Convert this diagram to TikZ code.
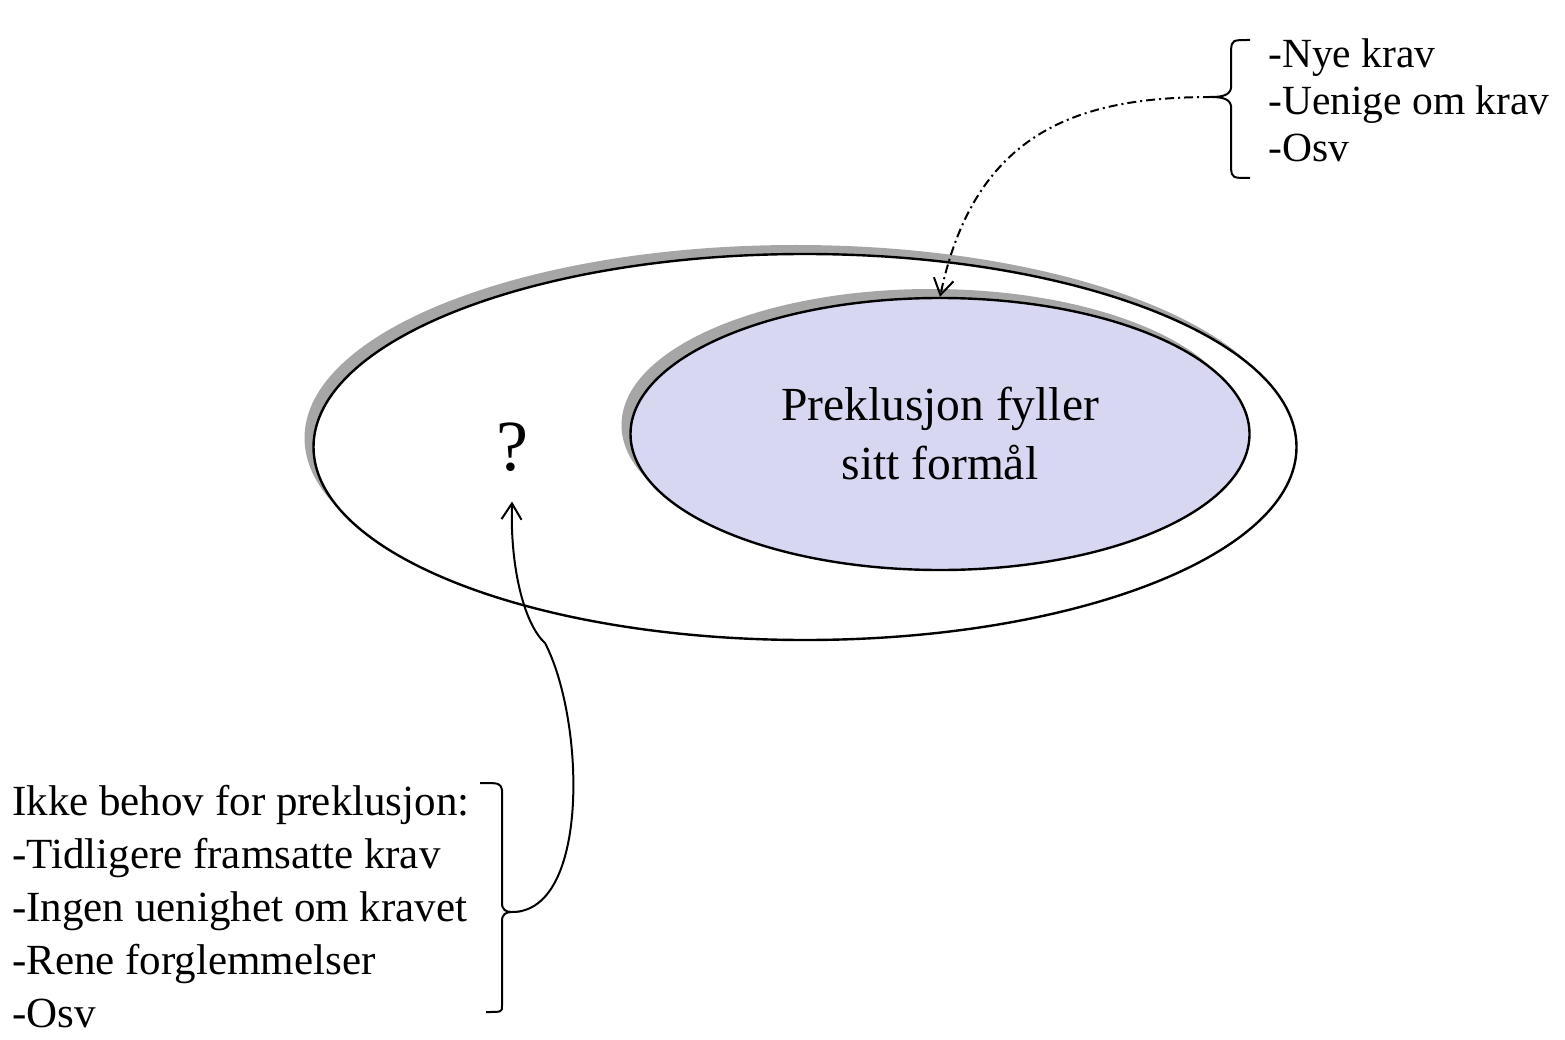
\documentclass[tikz,border=0pt]{standalone}
\usepackage{fontspec}
\setmainfont{Liberation Serif}
\usetikzlibrary{shapes.geometric,shadows,arrows.meta}
\definecolor{lavender}{RGB}{215,215,242}
\tikzset{
  ring/.style={ellipse, draw, line width=2.4pt, inner sep=0pt,
    drop shadow={shadow xshift=-9pt, shadow yshift=9pt, fill=gray!70, opacity=1}},
  brace/.style={line width=2pt},
  list/.style={align=left, inner sep=0pt, anchor=west},
}
\begin{document}
\begin{tikzpicture}[x=1pt, y=-1pt, >={Straight Barb[length=16pt,width=20pt]}]
		\useasboundingbox (0,0) rectangle (1565,1040);
		% ellipses
		\node[ring, fill=white, minimum width=983pt, minimum height=386pt] (outer) at (805,447) {};
		\node[ring, fill=lavender, minimum width=619pt, minimum height=272pt, align=center,
			font=\fontsize{47.5}{59}\selectfont] (inner) at (940,434) {Preklusjon fyller\\sitt formål};
		\node[inner sep=0pt, font=\fontsize{72}{84}\selectfont] (q) at (512,447) {?};
		% lists
		\node[list, font=\fontsize{41.5}{47}\selectfont] (toplist) at (1268,100) {-Nye krav\\-Uenige om krav\\-Osv};
		\node[list, font=\fontsize{43}{53}\selectfont] (lowlist) at (12,907) {Ikke behov for preklusjon:\\-Tidligere framsatte krav\\-Ingen uenighet om kravet\\-Rene forglemmelser\\-Osv};
		% braces
		\coordinate (tt) at (1212,97);
		\draw[brace] (1250,40) .. controls (1232,40) .. (1231,50) -- (1231,88) .. controls (1230,95) and (1222,97) .. (tt)
			.. controls (1222,97) and (1230,99) .. (1231,106) -- (1231,168) .. controls (1232,178) .. (1250,178);
		\coordinate (bt) at (512,912);
		\draw[brace] (480,783) .. controls (500,783) .. (502,790) -- (502,903) .. controls (502,910) and (506,912) .. (bt)
			.. controls (506,912) and (502,914) .. (502,921) -- (502,1006) .. controls (502,1012) .. (486,1012);
		% arrows
		\coordinate (qin) at ([yshift=-30pt]q.south);
		\draw[->, line width=2pt, dash pattern=on 9pt off 4pt on 2pt off 4pt] (tt) .. controls (1080,97) and (975,130) .. (inner.north);
		\draw[->, line width=2pt] (bt) .. controls (590,912) and (585,720) .. (545,643) .. controls (525,625) and (510,570) .. (qin);
\end{tikzpicture}
\end{document}
